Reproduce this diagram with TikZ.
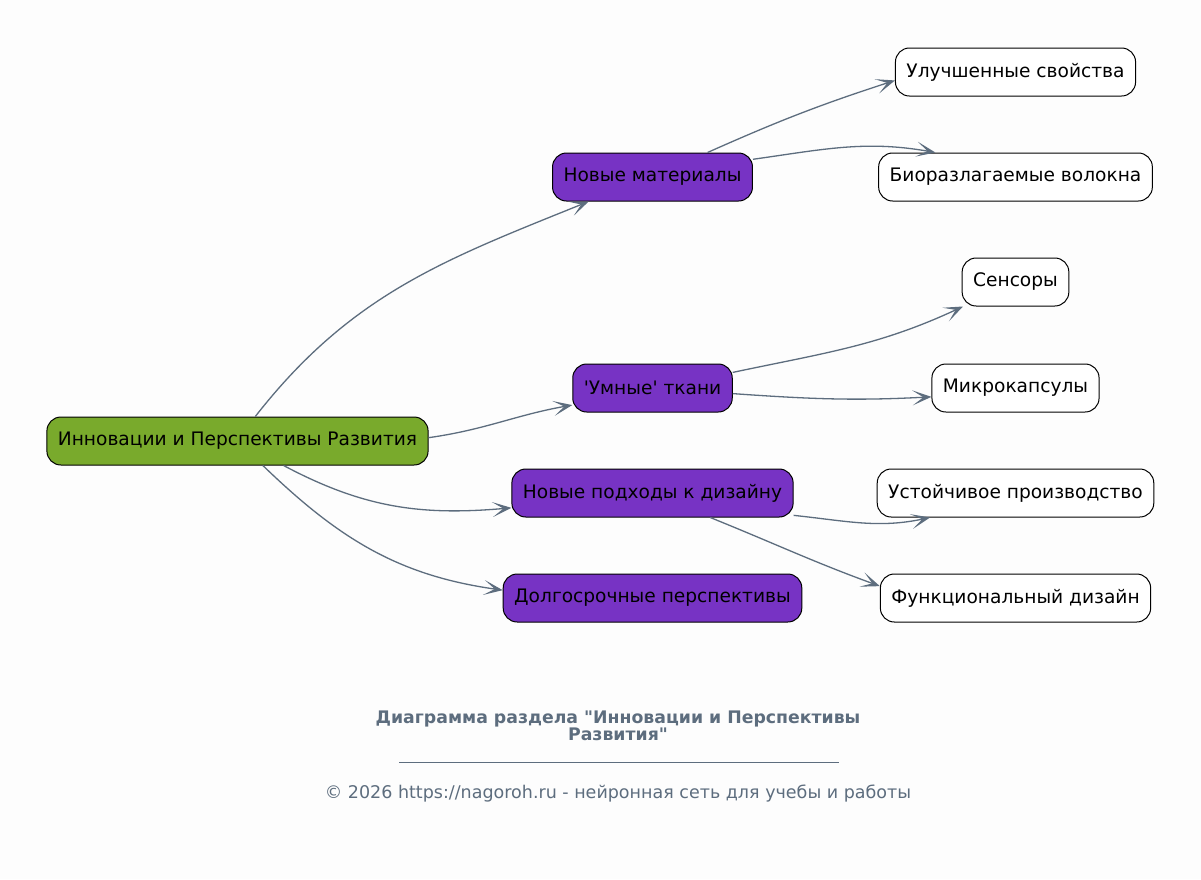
\documentclass[tikz,border=0pt]{standalone}
\usepackage{fontspec}
\setmainfont{DejaVu Sans}[Ligatures=TeXOff]
\usetikzlibrary{arrows.meta}

\definecolor{rootgreen}{HTML}{79AA2C}
\definecolor{midpurple}{HTML}{7733C4}
\definecolor{edgegray}{HTML}{5D6D7E}
\definecolor{paper}{HTML}{FDFDFD}

\tikzset{
  box/.style={draw=black, line width=1pt, rounded corners=14pt, minimum height=48pt,
    inner xsep=11pt, font=\fontsize{18.6}{21}\selectfont, text=black},
  rootbox/.style={box, fill=rootgreen},
  midbox/.style={box, fill=midpurple},
  leafbox/.style={box, fill=white},
  link/.style={draw=edgegray, line width=1.3pt,
    -{Stealth[length=19pt, width=15pt, inset=11pt]}},
}

\begin{document}
\begin{tikzpicture}[x=1pt, y=1pt]
		\fill[paper] (0, 0) rectangle (1201, -879);
		\useasboundingbox (0, 0) rectangle (1201, -879);

		% main topic and its branches
		\node[rootbox] (root) at (237.5, -441) {Инновации и Перспективы Развития};
		\node[midbox] (mat) at (652.5, -177) {Новые материалы};
		\node[midbox] (smart) at (652.5, -388) {'Умные' ткани};
		\node[midbox] (design) at (652.5, -493) {Новые подходы к дизайну};
		\node[midbox] (future) at (652.5, -598) {Долгосрочные перспективы};

		% leaves
		\node[leafbox] (props) at (1015.5, -72) {Улучшенные свойства};
		\node[leafbox] (bio) at (1015.5, -177) {Биоразлагаемые волокна};
		\node[leafbox] (sens) at (1015.5, -282) {Сенсоры};
		\node[leafbox] (caps) at (1015.5, -388) {Микрокапсулы};
		\node[leafbox] (sust) at (1015.5, -493) {Устойчивое производство};
		\node[leafbox] (func) at (1015.5, -598) {Функциональный дизайн};

		\draw[link] (root.54) to[out=52, in=202] (mat.201);
		\draw[link] (root.1) to[out=8, in=190] (smart.192);
		\draw[link] (root.332) to[out=-28, in=185] (design.186);
		\draw[link] (root.316) to[out=-44, in=172] (future.177);

		\draw[link] (mat.24) to[out=24, in=198] (props.184);
		\draw[link] (mat.10) to[out=8, in=170] (bio.163);
		\draw[link] (smart.11) to[out=12, in=205] (sens.205);
		\draw[link] (smart.356) to[out=-4, in=183] (caps.186);
		\draw[link] (design.351) to[out=-6, in=192] (sust.196);
		\draw[link] (design.337) to[out=-22, in=160] (func.175);

		% footer
		\node[font=\bfseries\fontsize{17.3}{17}\selectfont, text=edgegray, align=center] (title)
			at (618, -726) {Диаграмма раздела "Инновации и Перспективы\\Развития"};
		\draw[edgegray, line width=0.6pt] (399, -762) -- (839, -762);
		\node[font=\fontsize{17.5}{20}\selectfont, text=edgegray] (copy)
			at (618, -794) {© 2026 https://nagoroh.ru - нейронная сеть для учебы и работы};
	\end{tikzpicture}
\end{document}
